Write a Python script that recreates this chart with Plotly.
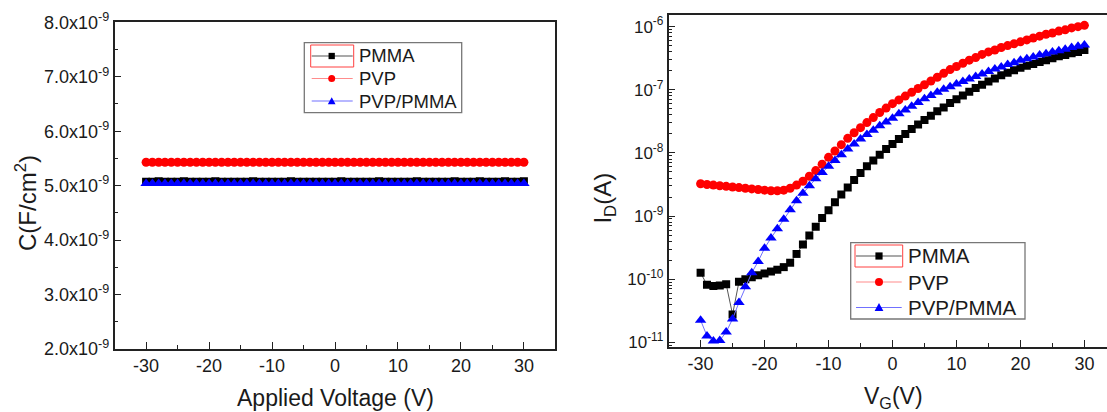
import plotly.graph_objects as go

# ---------------- data ----------------
# Left panel: capacitance vs applied voltage
v_cv = list(range(-30, 31))
c_pmma = [5.07e-9, 5.07e-9, 5.08e-9, 5.07e-9, 5.07e-9, 5.07e-9, 5.08e-9, 5.07e-9, 5.07e-9, 5.07e-9,
          5.07e-9, 5.08e-9, 5.07e-9, 5.07e-9, 5.07e-9, 5.07e-9, 5.07e-9, 5.08e-9, 5.07e-9, 5.07e-9,
          5.07e-9, 5.07e-9, 5.07e-9, 5.08e-9, 5.07e-9, 5.07e-9, 5.07e-9, 5.07e-9, 5.07e-9, 5.07e-9,
          5.07e-9, 5.08e-9, 5.07e-9, 5.07e-9, 5.07e-9, 5.07e-9, 5.07e-9, 5.08e-9, 5.07e-9, 5.07e-9,
          5.07e-9, 5.07e-9, 5.07e-9, 5.08e-9, 5.07e-9, 5.07e-9, 5.07e-9, 5.07e-9, 5.07e-9, 5.08e-9,
          5.07e-9, 5.07e-9, 5.07e-9, 5.08e-9, 5.07e-9, 5.07e-9, 5.07e-9, 5.08e-9, 5.07e-9, 5.07e-9,
          5.08e-9]
c_pvp = [5.43e-9, 5.43e-9, 5.43e-9, 5.43e-9, 5.43e-9, 5.43e-9, 5.43e-9, 5.43e-9, 5.43e-9, 5.43e-9,
         5.43e-9, 5.43e-9, 5.43e-9, 5.43e-9, 5.43e-9, 5.43e-9, 5.43e-9, 5.43e-9, 5.43e-9, 5.43e-9,
         5.43e-9, 5.43e-9, 5.43e-9, 5.43e-9, 5.43e-9, 5.43e-9, 5.43e-9, 5.43e-9, 5.43e-9, 5.43e-9,
         5.43e-9, 5.43e-9, 5.43e-9, 5.43e-9, 5.43e-9, 5.43e-9, 5.43e-9, 5.43e-9, 5.43e-9, 5.43e-9,
         5.43e-9, 5.43e-9, 5.43e-9, 5.43e-9, 5.43e-9, 5.43e-9, 5.43e-9, 5.43e-9, 5.43e-9, 5.43e-9,
         5.43e-9, 5.43e-9, 5.43e-9, 5.43e-9, 5.43e-9, 5.43e-9, 5.43e-9, 5.43e-9, 5.43e-9, 5.43e-9,
         5.43e-9]
c_pvp_pmma = [5.04e-9, 5.04e-9, 5.04e-9, 5.04e-9, 5.04e-9, 5.04e-9, 5.04e-9, 5.04e-9, 5.04e-9, 5.04e-9,
              5.04e-9, 5.04e-9, 5.04e-9, 5.04e-9, 5.04e-9, 5.04e-9, 5.04e-9, 5.04e-9, 5.04e-9, 5.04e-9,
              5.04e-9, 5.04e-9, 5.04e-9, 5.04e-9, 5.04e-9, 5.04e-9, 5.04e-9, 5.04e-9, 5.04e-9, 5.04e-9,
              5.04e-9, 5.04e-9, 5.04e-9, 5.04e-9, 5.04e-9, 5.04e-9, 5.04e-9, 5.04e-9, 5.04e-9, 5.04e-9,
              5.04e-9, 5.04e-9, 5.04e-9, 5.04e-9, 5.04e-9, 5.04e-9, 5.04e-9, 5.04e-9, 5.04e-9, 5.04e-9,
              5.04e-9, 5.04e-9, 5.04e-9, 5.04e-9, 5.04e-9, 5.04e-9, 5.04e-9, 5.04e-9, 5.04e-9, 5.04e-9,
              5.04e-9]

# Right panel: transfer curves, drain current vs gate voltage
vg = list(range(-30, 31))
id_pmma = [1.26e-10, 8.13e-11, 7.76e-11, 7.94e-11, 8.32e-11, 2.75e-11, 9.12e-11, 1.00e-10, 1.07e-10, 1.15e-10,
           1.23e-10, 1.32e-10, 1.41e-10, 1.55e-10, 1.82e-10, 2.51e-10, 3.55e-10, 4.90e-10, 6.76e-10, 9.33e-10,
           1.23e-9, 1.66e-9, 2.19e-9, 2.82e-9, 3.72e-9, 4.79e-9, 6.17e-9, 7.59e-9, 9.33e-9, 1.15e-8,
           1.38e-8, 1.66e-8, 2.00e-8, 2.40e-8, 2.82e-8, 3.31e-8, 3.89e-8, 4.57e-8, 5.25e-8, 6.17e-8,
           7.08e-8, 8.13e-8, 9.33e-8, 1.07e-7, 1.20e-7, 1.35e-7, 1.51e-7, 1.70e-7, 1.86e-7, 2.04e-7,
           2.24e-7, 2.40e-7, 2.57e-7, 2.75e-7, 2.95e-7, 3.16e-7, 3.39e-7, 3.55e-7, 3.80e-7, 3.98e-7,
           4.27e-7]
id_pvp = [3.24e-9, 3.16e-9, 3.09e-9, 3.02e-9, 2.95e-9, 2.88e-9, 2.82e-9, 2.75e-9, 2.69e-9, 2.63e-9,
          2.57e-9, 2.51e-9, 2.51e-9, 2.57e-9, 2.75e-9, 3.09e-9, 3.55e-9, 4.27e-9, 5.25e-9, 6.61e-9,
          8.51e-9, 1.07e-8, 1.35e-8, 1.70e-8, 2.09e-8, 2.51e-8, 3.02e-8, 3.63e-8, 4.37e-8, 5.13e-8,
          6.03e-8, 6.92e-8, 7.94e-8, 9.12e-8, 1.05e-7, 1.20e-7, 1.38e-7, 1.58e-7, 1.82e-7, 2.09e-7,
          2.34e-7, 2.63e-7, 2.95e-7, 3.24e-7, 3.63e-7, 3.98e-7, 4.27e-7, 4.68e-7, 5.01e-7, 5.37e-7,
          5.75e-7, 6.17e-7, 6.61e-7, 7.08e-7, 7.59e-7, 7.94e-7, 8.51e-7, 8.91e-7, 9.55e-7, 1.00e-6,
          1.05e-6]
id_pvp_pmma = [2.24e-11, 1.26e-11, 1.05e-11, 1.07e-11, 1.45e-11, 2.34e-11, 4.27e-11, 7.59e-11, 1.26e-10, 1.91e-10,
               3.09e-10, 4.47e-10, 6.31e-10, 8.91e-10, 1.26e-9, 1.74e-9, 2.29e-9, 3.02e-9, 3.89e-9, 4.90e-9,
               6.17e-9, 7.59e-9, 9.33e-9, 1.15e-8, 1.38e-8, 1.66e-8, 1.95e-8, 2.29e-8, 2.69e-8, 3.09e-8,
               3.55e-8, 4.17e-8, 4.79e-8, 5.50e-8, 6.31e-8, 7.24e-8, 8.13e-8, 9.12e-8, 1.02e-7, 1.12e-7,
               1.23e-7, 1.35e-7, 1.48e-7, 1.62e-7, 1.78e-7, 1.95e-7, 2.14e-7, 2.29e-7, 2.51e-7, 2.69e-7,
               2.95e-7, 3.09e-7, 3.31e-7, 3.55e-7, 3.72e-7, 3.98e-7, 4.17e-7, 4.37e-7, 4.68e-7, 4.90e-7,
               5.13e-7]

series_names = ["PMMA", "PVP", "PVP/PMMA"]
x_ticks = [-30, -20, -10, 0, 10, 20, 30]
x_ticktext = ["-30", "-20", "-10", "0", "10", "20", "30"]
c_ticks = [2e-9, 3e-9, 4e-9, 5e-9, 6e-9, 7e-9, 8e-9]
c_ticktext = ["2.0x10<sup>-9</sup>", "3.0x10<sup>-9</sup>", "4.0x10<sup>-9</sup>", "5.0x10<sup>-9</sup>",
              "6.0x10<sup>-9</sup>", "7.0x10<sup>-9</sup>", "8.0x10<sup>-9</sup>"]
id_ticks = [1e-11, 1e-10, 1e-9, 1e-8, 1e-7, 1e-6]
id_ticktext = ["10<sup>-11</sup>", "10<sup>-10</sup>", "10<sup>-9</sup>", "10<sup>-8</sup>",
               "10<sup>-7</sup>", "10<sup>-6</sup>"]
id_minor = [m * 10.0 ** e for e in range(-12, -5) for m in range(2, 10)]

# ---------------- styling ----------------
FONT = "Liberation Sans, Arial, sans-serif"
TXT = "#1a1a1a"
W, H = 1107, 412
styles = [
    dict(color="#000000", line="#555555", symbol="square", size=8),
    dict(color="#ff0000", line="#ff8c8c", symbol="circle", size=9),
    dict(color="#0000ff", line="#7070ff", symbol="triangle-up", size=10),
]

fig = go.Figure()
for name, ys, st in zip(series_names, [c_pmma, c_pvp, c_pvp_pmma], styles):
    fig.add_trace(go.Scatter(
        x=v_cv, y=ys, name=name, mode="lines+markers", xaxis="x", yaxis="y", showlegend=False,
        line=dict(color=st["line"], width=1),
        marker=dict(color=st["color"], symbol=st["symbol"], size=st["size"], line=dict(width=0)),
    ))
for name, ys, st in zip(series_names, [id_pmma, id_pvp, id_pvp_pmma], styles):
    fig.add_trace(go.Scatter(
        x=vg, y=ys, name=name, mode="lines+markers", xaxis="x2", yaxis="y2", showlegend=False,
        line=dict(color=st["line"], width=1),
        marker=dict(color=st["color"], symbol=st["symbol"], size=st["size"], line=dict(width=0)),
    ))


def px_x(p):
    return p / W


def px_y(p):
    return 1 - p / H


def axis_common(fs):
    return dict(
        showline=True, linecolor="#222222", linewidth=1.5, ticks="inside", tickcolor="#222222",
        tickwidth=1.3, ticklen=7, showgrid=False, zeroline=False, automargin=False,
        tickfont=dict(family=FONT, size=fs, color=TXT),
    )


minor_style = dict(ticks="inside", ticklen=4, tickcolor="#222222", tickwidth=1.2)

fig.update_layout(
    width=W, height=H, margin=dict(l=0, r=0, t=0, b=0, pad=0, autoexpand=False),
    paper_bgcolor="white", plot_bgcolor="white",
    font=dict(family=FONT, color=TXT),
    showlegend=False,
    xaxis=dict(**axis_common(18), domain=[px_x(114.6), px_x(555.4)], range=[-35, 35],
               tickvals=x_ticks, ticktext=x_ticktext, mirror=True, anchor="y",
               minor=dict(**minor_style, dtick=5, tick0=-35)),
    yaxis=dict(**axis_common(18), domain=[px_y(349), px_y(22.3)], range=[2e-9, 8e-9],
               tickvals=c_ticks, ticktext=c_ticktext, mirror=True, anchor="x",
               minor=dict(**minor_style, dtick=0.5e-9, tick0=0)),
    xaxis2=dict(**axis_common(18), domain=[px_x(668.6), 1.0], range=[-35, 33.53],
                tickvals=x_ticks, ticktext=x_ticktext, mirror=True, anchor="y2",
                minor=dict(**minor_style, dtick=5, tick0=-35)),
    yaxis2=dict(**axis_common(17), domain=[px_y(347), px_y(15.3)], type="log",
                range=[-11.075, -5.82], tickvals=id_ticks, ticktext=id_ticktext, anchor="x2",
                minor=dict(**minor_style, tickvals=id_minor)),
)

# axis titles
fig.add_annotation(text="C(F/cm<sup>2</sup>)", x=px_x(26), y=px_y(203), xref="paper", yref="paper",
                   textangle=-90, showarrow=False, font=dict(family=FONT, size=24, color=TXT),
                   xanchor="center", yanchor="middle")
fig.add_annotation(text="Applied Voltage (V)", x=px_x(335), y=px_y(398), xref="paper", yref="paper",
                   showarrow=False, font=dict(family=FONT, size=23, color=TXT),
                   xanchor="center", yanchor="middle")
fig.add_annotation(text="I<sub>D</sub>(A)", x=px_x(603.6), y=px_y(198), xref="paper", yref="paper",
                   textangle=-90, showarrow=False, font=dict(family=FONT, size=24, color=TXT),
                   xanchor="center", yanchor="middle")
fig.add_annotation(text="V<sub>G</sub>(V)", x=px_x(893), y=px_y(397), xref="paper", yref="paper",
                   showarrow=False, font=dict(family=FONT, size=23, color=TXT),
                   xanchor="center", yanchor="middle")


# ---------------- legends (Origin-style boxes) ----------------
def draw_legend(box, rows, line_x, mark_x, text_x, fs, msize):
    x0, x1, y0, y1 = box
    fig.add_shape(type="rect", xref="paper", yref="paper", x0=px_x(x0), x1=px_x(x1),
                  y0=px_y(y1), y1=px_y(y0), line=dict(color="#777777", width=1.3),
                  fillcolor="white", layer="above")
    for name, ry, st in zip(series_names, rows, styles):
        fig.add_shape(type="line", xref="paper", yref="paper", x0=px_x(line_x[0]), x1=px_x(line_x[1]),
                      y0=px_y(ry), y1=px_y(ry), line=dict(color=st["line"], width=1.2), layer="above")
        h = msize / 2
        if st["symbol"] == "square":
            fig.add_shape(type="rect", xref="paper", yref="paper", x0=px_x(mark_x - h * 0.9),
                          x1=px_x(mark_x + h * 0.9), y0=px_y(ry + h * 0.9), y1=px_y(ry - h * 0.9),
                          line=dict(width=0), fillcolor=st["color"], layer="above")
        elif st["symbol"] == "circle":
            fig.add_shape(type="circle", xref="paper", yref="paper", x0=px_x(mark_x - h),
                          x1=px_x(mark_x + h), y0=px_y(ry + h), y1=px_y(ry - h),
                          line=dict(width=0), fillcolor=st["color"], layer="above")
        else:
            path = "M {:.5f},{:.5f} L {:.5f},{:.5f} L {:.5f},{:.5f} Z".format(
                px_x(mark_x - h * 1.1), px_y(ry + h * 0.9), px_x(mark_x + h * 1.1), px_y(ry + h * 0.9),
                px_x(mark_x), px_y(ry - h * 1.1))
            fig.add_shape(type="path", xref="paper", yref="paper", path=path,
                          line=dict(width=0), fillcolor=st["color"], layer="above")
        fig.add_annotation(text=name, x=px_x(text_x), y=px_y(ry), xref="paper", yref="paper",
                           showarrow=False, xanchor="left", yanchor="middle",
                           font=dict(family=FONT, size=fs, color=TXT))
    # red selection box around the first entry's symbol (as in the original figure)
    fig.add_shape(type="rect", xref="paper", yref="paper", x0=px_x(line_x[0] - 1), x1=px_x(line_x[1] + 1),
                  y0=px_y(rows[0] + 11), y1=px_y(rows[0] - 11), line=dict(color="#ff4040", width=1),
                  layer="above")


draw_legend(box=(304.3, 461.7, 42.7, 112.7), rows=(56, 78.5, 101), line_x=(311.7, 352.7),
            mark_x=331.7, text_x=357, fs=18.5, msize=7)
draw_legend(box=(850.7, 1025, 242.7, 319), rows=(256, 282, 307.5), line_x=(856, 901.7),
            mark_x=879, text_x=906, fs=20.5, msize=8)

fig.write_html("out.html", config={"displayModeBar": False},
               post_script="document.body.style.margin='0';document.body.style.overflow='hidden';")
